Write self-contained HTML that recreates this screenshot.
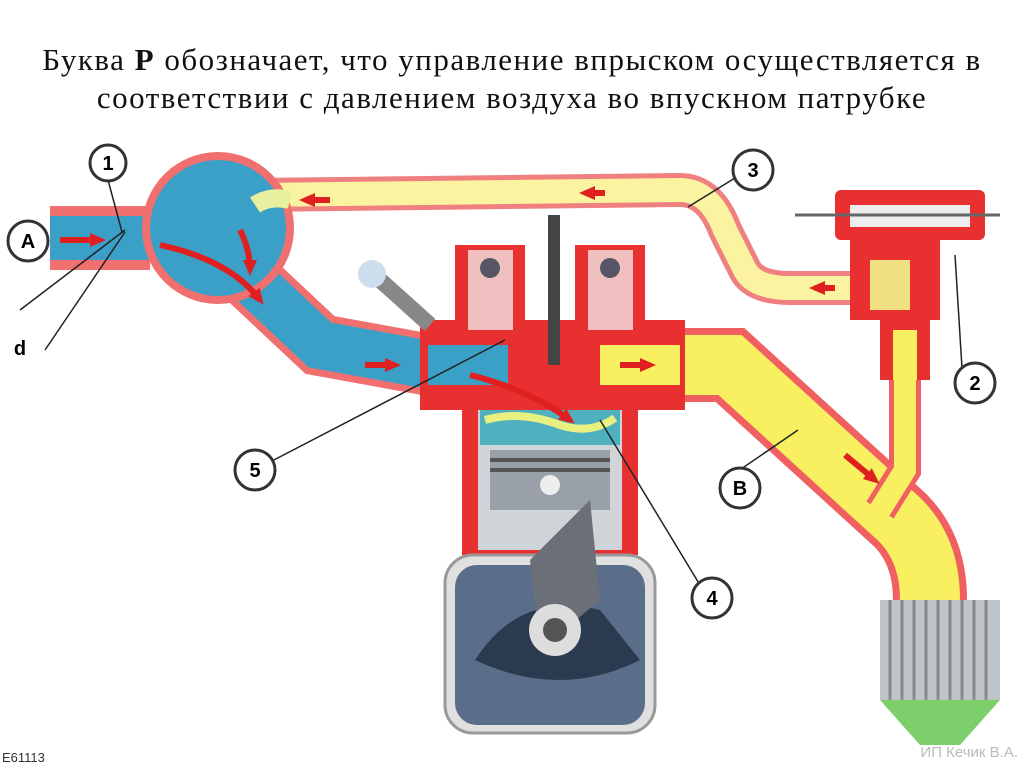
<!DOCTYPE html>
<html><head><meta charset="utf-8"><style>
html,body{margin:0;padding:0;background:#fff;}
body{width:1024px;height:767px;overflow:hidden;position:relative;}
.t{position:absolute;left:0;width:1024px;text-align:center;font-family:"Liberation Serif",serif;font-size:31px;letter-spacing:1.5px;color:#111;}
svg{position:absolute;left:0;top:0;}
</style></head><body>
<div class="t" style="top:42px">Буква <b>Р</b> обозначает, что управление впрыском осуществляется в</div>
<div class="t" style="top:80px">соответствии с давлением воздуха во впускном патрубке</div>
<svg width="1024" height="767" viewBox="0 0 1024 767" font-family="Liberation Sans,sans-serif">
<defs>
<marker id="ar" markerUnits="userSpaceOnUse" markerWidth="16" markerHeight="14" refX="10" refY="7" orient="auto"><path d="M0,0L16,7L0,14z" fill="#e02020"/></marker>
</defs>
<path d="M250,195 L680,190 Q710,190 725,230 L745,270 Q755,288 790,288 L850,288" fill="none" stroke="#f08080" stroke-width="34"/>
<path d="M250,195 L680,190 Q710,190 725,230 L745,270 Q755,288 790,288 L850,288" fill="none" stroke="#fbf3a0" stroke-width="24"/>
<path d="M600,365 L730,365 L900,520 Q930,550 930,600" fill="none" stroke="#f06060" stroke-width="74"/>
<path d="M600,365 L730,365 L900,520 Q930,550 930,600" fill="none" stroke="#f8f060" stroke-width="60"/>
<path d="M905,380 L905,470 L880,510" fill="none" stroke="#f06060" stroke-width="32"/>
<path d="M905,380 L905,470 L880,510" fill="none" stroke="#f8f060" stroke-width="22"/>
<path d="M50,238 L150,238" stroke="#f07070" stroke-width="64"/>
<path d="M50,238 L150,238" stroke="#3aa0c8" stroke-width="44"/>
<path d="M240,270 L320,345 L430,365" fill="none" stroke="#f07070" stroke-width="62"/>
<path d="M240,270 L320,345 L430,365" fill="none" stroke="#3aa0c8" stroke-width="48"/>
<circle cx="218" cy="228" r="76" fill="#f07070"/>
<circle cx="218" cy="228" r="68" fill="#3aa0c8"/>
<path d="M255,205 Q270,195 290,200" stroke="#e8f0a0" stroke-width="18" fill="none"/>
<rect x="420" y="320" width="265" height="90" fill="#e83030"/>
<rect x="455" y="245" width="70" height="90" fill="#e83030"/>
<rect x="575" y="245" width="70" height="90" fill="#e83030"/>
<rect x="468" y="250" width="45" height="80" fill="#f0c0c0"/>
<rect x="588" y="250" width="45" height="80" fill="#f0c0c0"/>
<circle cx="490" cy="268" r="10" fill="#556"/><circle cx="610" cy="268" r="10" fill="#556"/>
<rect x="428" y="345" width="80" height="40" fill="#3aa0c8"/>
<rect x="600" y="345" width="80" height="40" fill="#f8f060"/>
<rect x="548" y="215" width="12" height="150" fill="#444"/>
<rect x="462" y="405" width="176" height="150" fill="#e83030"/>
<rect x="478" y="410" width="144" height="140" fill="#cfd4d8"/>
<rect x="480" y="410" width="140" height="35" fill="#4fb0c0"/>
<path d="M485,420 Q520,410 560,425 Q590,435 615,418" stroke="#e8f080" stroke-width="8" fill="none"/>
<rect x="490" y="450" width="120" height="60" fill="#9aa0a8"/>
<rect x="490" y="458" width="120" height="4" fill="#555"/><rect x="490" y="468" width="120" height="4" fill="#555"/>
<circle cx="550" cy="485" r="10" fill="#eee"/>
<rect x="445" y="555" width="210" height="178" rx="28" fill="#e0e0e0" stroke="#999" stroke-width="3"/>
<rect x="455" y="565" width="190" height="160" rx="22" fill="#5a6e8a"/>
<path d="M475,660 Q520,590 600,610 L640,660 Q560,700 475,660z" fill="#2c3a50"/>
<path d="M530,560 L590,500 L600,600 L540,650z" fill="#6b6f78"/>
<circle cx="555" cy="630" r="26" fill="#ddd"/><circle cx="555" cy="630" r="12" fill="#555"/>
<g stroke="#e02020" stroke-width="6" fill="none" marker-end="url(#ar)">
<path d="M60,240 L100,240"/><path d="M160,245 Q230,260 260,300"/><path d="M240,230 Q250,250 250,270"/>
<path d="M365,365 L395,365"/><path d="M470,375 Q530,390 570,420"/><path d="M620,365 L650,365"/>
<path d="M845,455 L875,480"/><path d="M330,200 L305,200"/><path d="M605,193 L585,193"/><path d="M835,288 L815,288"/>
</g>
<path d="M380,280 L430,325" stroke="#888" stroke-width="16"/>
<circle cx="372" cy="274" r="14" fill="#cde"/>
<rect x="835" y="190" width="150" height="50" rx="6" fill="#e83030"/>
<rect x="850" y="205" width="120" height="22" fill="#eee"/>
<rect x="850" y="240" width="90" height="80" fill="#e83030"/>
<rect x="870" y="260" width="40" height="50" fill="#f0e080"/>
<rect x="880" y="320" width="50" height="60" fill="#e83030"/>
<rect x="893" y="330" width="24" height="50" fill="#f8f060"/>
<path d="M795,215 L1000,215" stroke="#666" stroke-width="3"/>
<rect x="880" y="600" width="120" height="100" fill="#bfc4c8"/>
<g stroke="#888" stroke-width="3"><path d="M890,600V700M902,600V700M914,600V700M926,600V700M938,600V700M950,600V700M962,600V700M974,600V700M986,600V700"/></g>
<path d="M880,700 L1000,700 L960,745 L920,745z" fill="#7ccf6a"/>
<g stroke="#222" stroke-width="1.5" fill="none">
<path d="M108,180 L122,232"/><path d="M735,178 L688,207"/><path d="M962,368 L955,255"/>
<path d="M725,480 L798,430"/><path d="M270,462 L505,340"/><path d="M700,585 L600,420"/>
<path d="M20,310 L125,230"/><path d="M45,350 L125,232"/>
</g>
<g font-size="20" font-weight="bold" text-anchor="middle">
<g fill="#fff" stroke="#333" stroke-width="3">
<circle cx="108" cy="163" r="18"/><circle cx="28" cy="241" r="20"/><circle cx="753" cy="170" r="20"/>
<circle cx="975" cy="383" r="20"/><circle cx="740" cy="488" r="20"/><circle cx="255" cy="470" r="20"/><circle cx="712" cy="598" r="20"/>
</g>
<text x="108" y="170">1</text><text x="28" y="248">A</text><text x="753" y="177">3</text>
<text x="975" y="390">2</text><text x="740" y="495">B</text><text x="255" y="477">5</text><text x="712" y="605">4</text>
<text x="20" y="355">d</text>
</g>
<text x="2" y="762" font-size="13" fill="#333">E61113</text>
<text x="1018" y="757" font-size="15" fill="#bbb" text-anchor="end">ИП Кечик В.А.</text>
</svg>
</body></html>
